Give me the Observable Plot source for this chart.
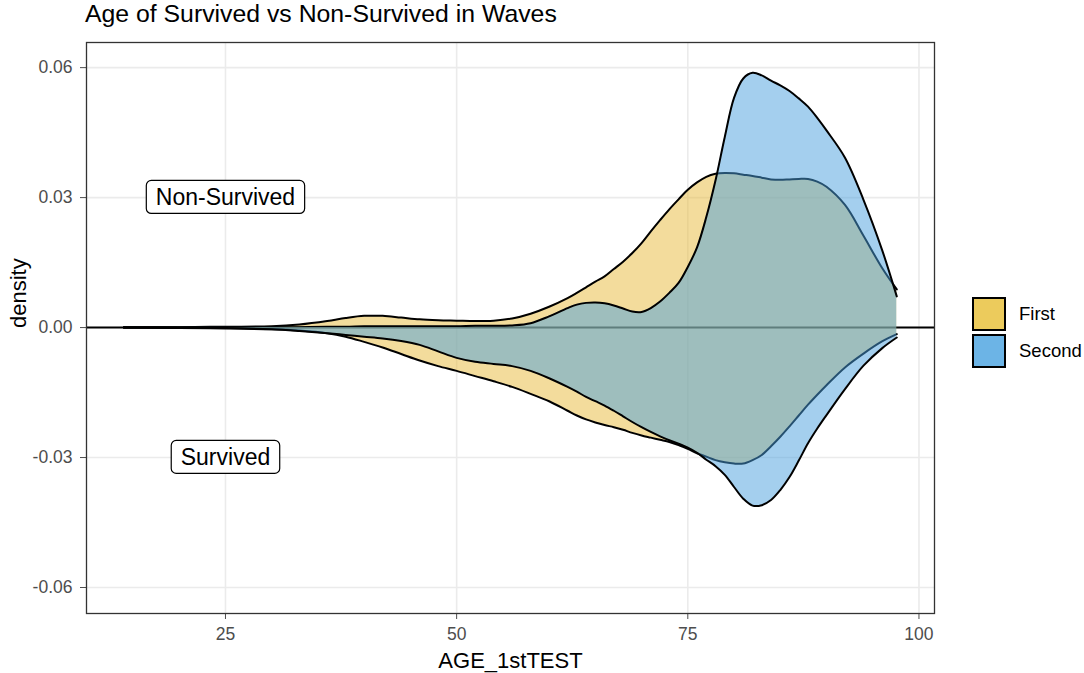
<!DOCTYPE html>
<html>
<head>
<meta charset="utf-8">
<script src="https://cdn.jsdelivr.net/npm/d3@7"></script>
<script src="https://cdn.jsdelivr.net/npm/@observablehq/plot@0.6"></script>
<style>
  html, body { margin: 0; padding: 0; background: #fff; }
  body { font-family: "Liberation Sans", Arial, Helvetica, sans-serif; }
  #wrap { position: relative; width: 1084px; height: 673px; overflow: hidden; }
  #title { height: 34px; box-sizing: border-box; padding-left: 85px; padding-top: 2px; font-size: 24.8px; line-height: 1; color: #000; white-space: nowrap; }
  #legend { position: absolute; left: 972px; top: 297px; }
  .row { display: flex; align-items: center; height: 34px; margin-bottom: 3px; }
  .key { width: 34px; height: 34px; box-sizing: border-box; border: 2px solid #000; }
  .lab { margin-left: 13px; font-size: 18.5px; color: #000; }
</style>
</head>
<body>
<div id="wrap">
  <div id="title">Age of Survived vs Non-Survived in Waves</div>
  <div id="chart"></div>
  <div id="legend"></div>
</div>
<script>
// ---- data ----
const ages = [14,20,25,30,33,36,38,40,42,44,46,48,50,52,54,56,58,60,62,63,64,65,66,67,68,69,70,71,72,73,74,75,76,77,78,79,80,81,82,83,84,85,86,87,88,89,90,92,94,96,97.6];

// Non-Survived (plotted positive)
const firstNonSurvived = [0.0000,0.0001,0.0002,0.0003,0.0007,0.0015,0.0022,0.0027,0.0027,0.0023,0.0019,0.0017,0.0016,0.0015,0.0016,0.0021,0.0032,0.0048,0.0068,0.0080,0.0093,0.0106,0.0118,0.0135,0.0152,0.0172,0.0195,0.0222,0.0248,0.0273,0.0296,0.0318,0.0335,0.0348,0.0355,0.0357,0.0356,0.0353,0.0350,0.0346,0.0342,0.0341,0.0342,0.0343,0.0343,0.0337,0.0325,0.0283,0.0212,0.0138,0.0088];
const secondNonSurvived = [0.0001,0.0001,0.0001,0.0001,0.0001,0.0002,0.0002,0.0003,0.0003,0.0003,0.0003,0.0003,0.0003,0.0004,0.0004,0.0005,0.0010,0.0026,0.0045,0.0053,0.0057,0.0058,0.0056,0.0051,0.0044,0.0037,0.0036,0.0045,0.0060,0.0080,0.0103,0.0140,0.0185,0.0255,0.0340,0.0440,0.0530,0.0575,0.0588,0.0582,0.0570,0.0559,0.0546,0.0529,0.0510,0.0484,0.0455,0.0392,0.0295,0.0180,0.0072];

// Survived (plotted negative)
const firstSurvived = [-0.0000,-0.0001,-0.0002,-0.0004,-0.0007,-0.0013,-0.0021,-0.0033,-0.0046,-0.0061,-0.0076,-0.0089,-0.0100,-0.0112,-0.0124,-0.0137,-0.0153,-0.0170,-0.0192,-0.0203,-0.0212,-0.0219,-0.0225,-0.0230,-0.0236,-0.0243,-0.0249,-0.0254,-0.0259,-0.0264,-0.0271,-0.0280,-0.0290,-0.0298,-0.0306,-0.0311,-0.0314,-0.0314,-0.0306,-0.0294,-0.0274,-0.0252,-0.0228,-0.0203,-0.0178,-0.0155,-0.0133,-0.0092,-0.0060,-0.0032,-0.0015];
const secondSurvived = [-0.0000,-0.0001,-0.0001,-0.0004,-0.0008,-0.0013,-0.0017,-0.0021,-0.0025,-0.0031,-0.0040,-0.0055,-0.0070,-0.0079,-0.0084,-0.0089,-0.0100,-0.0117,-0.0137,-0.0148,-0.0160,-0.0170,-0.0180,-0.0192,-0.0205,-0.0218,-0.0230,-0.0241,-0.0251,-0.0260,-0.0268,-0.0277,-0.0289,-0.0305,-0.0320,-0.0340,-0.0368,-0.0395,-0.0411,-0.0410,-0.0398,-0.0375,-0.0345,-0.0307,-0.0267,-0.0233,-0.0202,-0.0142,-0.0088,-0.0048,-0.0023];

const waves = ["First", "Second"];
const xTicks = [25, 50, 75, 100];
const yTicks = [-0.06, -0.03, 0, 0.03, 0.06];
const labelText = ["Non-Survived", "Survived"];
const labelX = [25, 25];
const labelY = [0.03, -0.03];

// ---- styling ----
const fillColor = {First: "#E8BA3A", Second: "#4A9FDD"};
const legendColor = {First: "#ECCB5C", Second: "#6CB4E6"};
const curve = "catmull-rom";

const toRows = (vals) => ages.map((a, i) => ({age: a, d: vals[i]}));
const layers = [
  {wave: "First", rows: toRows(firstNonSurvived)},
  {wave: "Second", rows: toRows(secondNonSurvived)},
  {wave: "First", rows: toRows(firstSurvived)},
  {wave: "Second", rows: toRows(secondSurvived)}
];
const labels = labelText.map((t, i) => ({t, x: labelX[i], y: labelY[i]}));

const marks = [
  Plot.gridX(xTicks, {stroke: "#EBEBEB", strokeOpacity: 1, strokeWidth: 1.6}),
  Plot.gridY(yTicks, {stroke: "#EBEBEB", strokeOpacity: 1, strokeWidth: 1.6}),
  Plot.ruleY([0], {stroke: "#000", strokeWidth: 2})
];
for (const L of layers) {
  marks.push(Plot.areaY(L.rows, {x: "age", y1: 0, y2: "d", fill: fillColor[L.wave], fillOpacity: 0.5, curve}));
  marks.push(Plot.lineY(L.rows, {x: "age", y: "d", stroke: "#000", strokeWidth: 2, curve}));
}
marks.push(
  Plot.text(labels, {x: "x", y: "y", text: "t", fill: "#000", fontSize: 23}),
  Plot.frame({stroke: "#333", strokeWidth: 1.3}),
  Plot.text(["AGE_1stTEST"], {frameAnchor: "bottom", dy: 47, fill: "#000", fontSize: 22, lineAnchor: "middle"}),
  Plot.text(["density"], {frameAnchor: "left", dx: -68, rotate: -90, fill: "#000", fontSize: 22, lineAnchor: "middle"})
);

const chart = Plot.plot({
  width: 1084,
  height: 639,
  marginTop: 8,
  marginBottom: 60,
  marginLeft: 86,
  marginRight: 150,
  style: {fontFamily: "'Liberation Sans', Arial, Helvetica, sans-serif", fontSize: "17.5px", color: "#4D4D4D", background: "#fff"},
  x: {domain: [9.97, 101.68], ticks: xTicks, tickSize: 6, tickPadding: 8, label: null},
  y: {domain: [-0.0660, 0.0658], ticks: yTicks, tickSize: 6, tickPadding: 8, tickFormat: d => d.toFixed(2), label: null},
  marks
});
document.getElementById("chart").appendChild(chart);

// rounded white boxes behind the annotation labels (geom_label look)
const ns = "http://www.w3.org/2000/svg";
Array.from(chart.querySelectorAll("text"))
  .filter(t => labelText.includes(t.textContent))
  .forEach(t => {
    const b = t.getBBox();
    const padX = 9.5, padY = 3.5;
    const r = document.createElementNS(ns, "rect");
    r.setAttribute("x", b.x - padX);
    r.setAttribute("y", b.y - padY);
    r.setAttribute("width", b.width + 2 * padX);
    r.setAttribute("height", b.height + 2 * padY);
    r.setAttribute("rx", 5);
    r.setAttribute("fill", "#fff");
    r.setAttribute("stroke", "#000");
    r.setAttribute("stroke-width", 1.2);
    const tr = t.getAttribute("transform");
    if (tr) r.setAttribute("transform", tr);
    t.parentNode.insertBefore(r, t);
  });

// legend
const legend = document.getElementById("legend");
waves.forEach(w => {
  const row = document.createElement("div");
  row.className = "row";
  const k = document.createElement("div");
  k.className = "key";
  k.style.background = legendColor[w];
  const l = document.createElement("div");
  l.className = "lab";
  l.textContent = w;
  row.appendChild(k); row.appendChild(l);
  legend.appendChild(row);
});
</script>
</body>
</html>
